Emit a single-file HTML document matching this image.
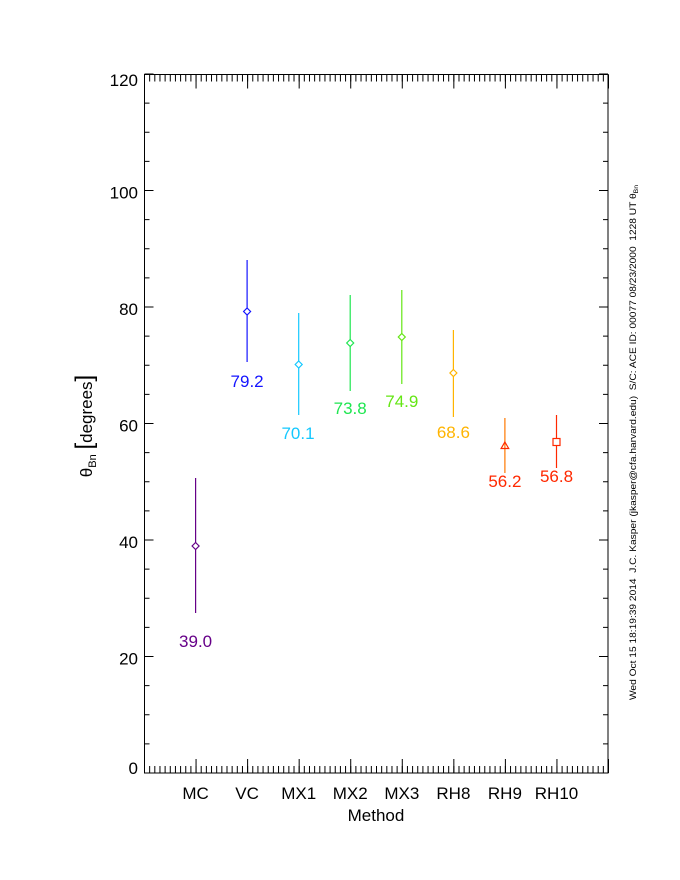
<!DOCTYPE html>
<html><head><meta charset="utf-8"><style>
html,body{margin:0;padding:0;background:#fff;}
svg{display:block;}
text{font-family:"Liberation Sans",sans-serif;}
</style></head><body>
<svg width="680" height="880" viewBox="0 0 680 880" xmlns="http://www.w3.org/2000/svg">
<rect x="0" y="0" width="680" height="880" fill="#fff"/>
<!-- frame -->
<rect x="144.5" y="74.5" width="463.5" height="698.5" fill="none" stroke="#000" stroke-width="1"/>
<g stroke="#000" fill="none">
  <!-- bottom x ticks -->
  <line x1="144" y1="769.5" x2="609" y2="769.5" stroke-width="7" stroke-dasharray="1 4.1556"/>
  <line x1="144" y1="766" x2="609" y2="766" stroke-width="14" stroke-dasharray="1 50.556"/>
  <!-- top x ticks -->
  <line x1="144" y1="78" x2="609" y2="78" stroke-width="7" stroke-dasharray="1 4.1556"/>
  <line x1="144" y1="81.5" x2="609" y2="81.5" stroke-width="14" stroke-dasharray="1 50.556"/>
  <!-- left y ticks (from bottom) -->
  <line x1="147" y1="773.5" x2="147" y2="73" stroke-width="5" stroke-dasharray="1 28.125"/>
  <line x1="149" y1="773.5" x2="149" y2="73" stroke-width="9" stroke-dasharray="1 115.5"/>
  <!-- right y ticks -->
  <line x1="605.5" y1="773.5" x2="605.5" y2="73" stroke-width="5" stroke-dasharray="1 28.125"/>
  <line x1="603.5" y1="773.5" x2="603.5" y2="73" stroke-width="9" stroke-dasharray="1 115.5"/>
</g>
<!-- y tick labels -->
<g font-size="17" text-anchor="end" fill="#000">
  <text x="138" y="86">120</text>
  <text x="138" y="198.5">100</text>
  <text x="138" y="315">80</text>
  <text x="138" y="431.5">60</text>
  <text x="138" y="548">40</text>
  <text x="138" y="664.5">20</text>
  <text x="138" y="774">0</text>
</g>
<!-- x tick labels -->
<g font-size="17" text-anchor="middle" fill="#000">
  <text x="195.6" y="799">MC</text>
  <text x="247.1" y="799">VC</text>
  <text x="298.7" y="799">MX1</text>
  <text x="350.2" y="799">MX2</text>
  <text x="401.8" y="799">MX3</text>
  <text x="453.4" y="799">RH8</text>
  <text x="504.9" y="799">RH9</text>
  <text x="556.5" y="799">RH10</text>
  <text x="376" y="821">Method</text>
</g>
<!-- y axis title -->
<text transform="translate(92,426) rotate(-90)" text-anchor="middle" font-size="17" fill="#000">θ<tspan font-size="11" dy="4">Bn</tspan><tspan dy="-4" font-size="17"> </tspan><tspan font-size="24">[</tspan>degrees<tspan font-size="24">]</tspan></text>
<!-- right side annotation -->
<text transform="translate(636,700) rotate(-90)" font-size="9" fill="#000" textLength="515" lengthAdjust="spacingAndGlyphs" xml:space="preserve" style="white-space:pre">Wed Oct 15 18:19:39 2014  J.C. Kasper (jkasper@cfa.harvard.edu)  S/C: ACE ID: 00077 08/23/2000  1228 UT θ<tspan font-size="6" dy="2">Bn</tspan></text>

<!-- data -->
<g stroke-width="1.2" fill="none">
  <!-- MC -->
  <line x1="195.6" y1="478" x2="195.6" y2="613" stroke="#660088"/>
  <polygon points="195.6,542.5 199.1,546 195.6,549.5 192.1,546" stroke="#660088" fill="#fff"/>
  <!-- VC -->
  <line x1="247.1" y1="260" x2="247.1" y2="362" stroke="#1414ff"/>
  <polygon points="247.1,308 250.6,311.5 247.1,315 243.6,311.5" stroke="#1414ff" fill="#fff"/>
  <!-- MX1 -->
  <line x1="298.7" y1="313" x2="298.7" y2="415" stroke="#14c8ff"/>
  <polygon points="298.7,361 302.2,364.5 298.7,368 295.2,364.5" stroke="#14c8ff" fill="#fff"/>
  <!-- MX2 -->
  <line x1="350.2" y1="295" x2="350.2" y2="391" stroke="#1ee650"/>
  <polygon points="350.2,339.5 353.7,343 350.2,346.5 346.7,343" stroke="#1ee650" fill="#fff"/>
  <!-- MX3 -->
  <line x1="401.8" y1="290" x2="401.8" y2="384" stroke="#64e614"/>
  <polygon points="401.8,333.5 405.3,337 401.8,340.5 398.3,337" stroke="#64e614" fill="#fff"/>
  <!-- RH8 -->
  <line x1="453.4" y1="330" x2="453.4" y2="417" stroke="#ffb400"/>
  <polygon points="453.4,369.5 456.9,373 453.4,376.5 449.9,373" stroke="#ffb400" fill="#fff"/>
  <!-- RH9 -->
  <line x1="504.9" y1="418" x2="504.9" y2="473" stroke="#ff7800"/>
  <polygon points="504.9,442 508.7,448.5 501.1,448.5" stroke="#ff2800" fill="none"/>
  <!-- RH10 -->
  <line x1="556.5" y1="415" x2="556.5" y2="468" stroke="#ff2800"/>
  <rect x="553" y="438.5" width="7" height="7" stroke="#ff2800" fill="#fff"/>
</g>
<g font-size="17" text-anchor="middle">
  <text x="195.6" y="647" fill="#660088">39.0</text>
  <text x="247.1" y="387" fill="#1414ff">79.2</text>
  <text x="298" y="439" fill="#14c8ff">70.1</text>
  <text x="350.2" y="414" fill="#1ee650">73.8</text>
  <text x="401.8" y="407" fill="#64e614">74.9</text>
  <text x="453.4" y="438" fill="#ffb400">68.6</text>
  <text x="504.9" y="487" fill="#ff2800">56.2</text>
  <text x="556.5" y="482" fill="#ff2800">56.8</text>
</g>
</svg>
</body></html>
